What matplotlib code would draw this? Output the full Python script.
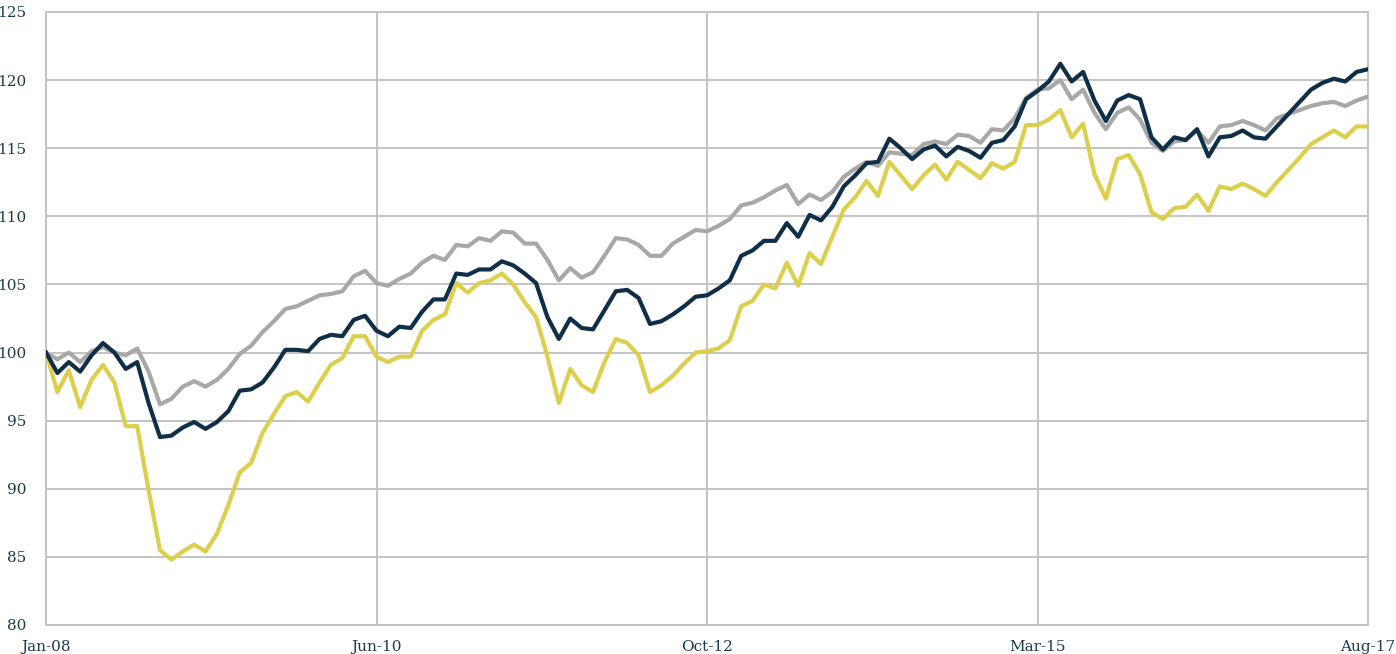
import matplotlib
matplotlib.use("Agg")
import matplotlib.pyplot as plt
import numpy as np

tick_labels = ["Jan-08", "Jun-10", "Oct-12", "Mar-15", "Aug-17"]
tick_positions = [0, 29, 58, 87, 116]

gray_series = [
    100.0, 99.5, 100.0, 99.3, 100.1, 100.4, 100.0, 99.8, 100.3, 98.6,
    96.2, 96.6, 97.5, 97.9, 97.5, 98.0, 98.8, 99.9, 100.5, 101.5,
    102.3, 103.2, 103.4, 103.8, 104.2, 104.3, 104.5, 105.6, 106.0, 105.1,
    104.9, 105.4, 105.8, 106.6, 107.1, 106.8, 107.9, 107.8, 108.4, 108.2,
    108.9, 108.8, 108.0, 108.0, 106.8, 105.3, 106.2, 105.5, 105.9, 107.1,
    108.4, 108.3, 107.9, 107.1, 107.1, 108.0, 108.5, 109.0, 108.9, 109.3,
    109.8, 110.8, 111.0, 111.4, 111.9, 112.3, 110.9, 111.6, 111.2, 111.8,
    112.9, 113.5, 114.0, 113.7, 114.7, 114.6, 114.5, 115.3, 115.5, 115.3,
    116.0, 115.9, 115.4, 116.4, 116.3, 117.2, 118.7, 119.3, 119.4, 120.0,
    118.6, 119.3, 117.6, 116.4, 117.6, 118.0, 117.1, 115.4, 114.8, 115.5,
    115.6, 116.3, 115.4, 116.6, 116.7, 117.0, 116.7, 116.3, 117.2, 117.5,
    117.8, 118.1, 118.3, 118.4, 118.1, 118.5, 118.8,
]

navy_series = [
    100.0, 98.5, 99.3, 98.6, 99.8, 100.7, 100.0, 98.8, 99.3, 96.3,
    93.8, 93.9, 94.5, 94.9, 94.4, 94.9, 95.7, 97.2, 97.3, 97.8,
    98.9, 100.2, 100.2, 100.1, 101.0, 101.3, 101.2, 102.4, 102.7, 101.6,
    101.2, 101.9, 101.8, 103.0, 103.9, 103.9, 105.8, 105.7, 106.1, 106.1,
    106.7, 106.4, 105.8, 105.1, 102.6, 101.0, 102.5, 101.8, 101.7, 103.1,
    104.5, 104.6, 104.0, 102.1, 102.3, 102.8, 103.4, 104.1, 104.2, 104.7,
    105.3, 107.1, 107.5, 108.2, 108.2, 109.5, 108.5, 110.1, 109.7, 110.7,
    112.2, 113.0, 113.9, 114.0, 115.7, 115.0, 114.2, 114.9, 115.2, 114.4,
    115.1, 114.8, 114.3, 115.4, 115.6, 116.6, 118.6, 119.2, 119.9, 121.2,
    119.9, 120.6, 118.5, 117.0, 118.5, 118.9, 118.6, 115.8, 114.9, 115.8,
    115.6, 116.4, 114.4, 115.8, 115.9, 116.3, 115.8, 115.7, 116.6, 117.5,
    118.4, 119.3, 119.8, 120.1, 119.9, 120.6, 120.8,
]

yellow_series = [
    100.0, 97.1, 98.7, 96.0, 98.0, 99.1, 97.8, 94.6, 94.6, 89.9,
    85.5, 84.8, 85.4, 85.9, 85.4, 86.7, 88.8, 91.2, 91.9, 94.1,
    95.5, 96.8, 97.1, 96.4, 97.8, 99.1, 99.6, 101.2, 101.2, 99.7,
    99.3, 99.7, 99.7, 101.6, 102.4, 102.8, 105.1, 104.4, 105.1, 105.3,
    105.8, 105.0, 103.7, 102.6, 99.7, 96.3, 98.8, 97.6, 97.1, 99.3,
    101.0, 100.7, 99.8, 97.1, 97.6, 98.3, 99.2, 100.0, 100.1, 100.3,
    100.9, 103.4, 103.8, 105.0, 104.7, 106.6, 104.9, 107.3, 106.5, 108.5,
    110.5, 111.4, 112.6, 111.5, 114.0, 113.0, 112.0, 113.0, 113.8, 112.7,
    114.0, 113.4, 112.8, 113.9, 113.5, 114.0, 116.7, 116.7, 117.1, 117.8,
    115.8, 116.8, 113.1, 111.3, 114.2, 114.5, 113.1, 110.3, 109.8, 110.6,
    110.7, 111.6, 110.4, 112.2, 112.0, 112.4, 112.0, 111.5, 112.5, 113.4,
    114.3, 115.3, 115.8, 116.3, 115.8, 116.6, 116.6,
]

x = np.arange(len(navy_series))

fig = plt.figure(figsize=(13.96, 6.54), dpi=100)
ax = fig.add_axes([46 / 1396, 1 - 625 / 654, (1368 - 46) / 1396, (625 - 12) / 654])

grid_color = "#c4c4c4"
text_color = "#1c3a4e"

ax.plot(x, gray_series, color="#a8a8a8", lw=3.0, solid_joinstyle="round", zorder=3)
ax.plot(x, yellow_series, color="#dccf4c", lw=3.0, solid_joinstyle="round", zorder=4)
ax.plot(x, navy_series, color="#0e2f47", lw=3.0, solid_joinstyle="round", zorder=5)

ax.set_xlim(0, 116)
ax.set_ylim(80, 125)
ax.set_yticks(np.arange(80, 126, 5))
ax.set_xticks(tick_positions)
ax.set_xticklabels(tick_labels)

ax.grid(True, color=grid_color, lw=1.4, zorder=0)
for s in ax.spines.values():
    s.set_color(grid_color)
    s.set_linewidth(1.4)
ax.tick_params(axis="both", length=0, colors=text_color, labelsize=11)
ax.tick_params(axis="y", pad=14)
ax.tick_params(axis="x", pad=11)
for lbl in ax.get_xticklabels() + ax.get_yticklabels():
    lbl.set_family("DejaVu Serif")
    lbl.set_color(text_color)

fig.savefig("out.png", dpi=100)
